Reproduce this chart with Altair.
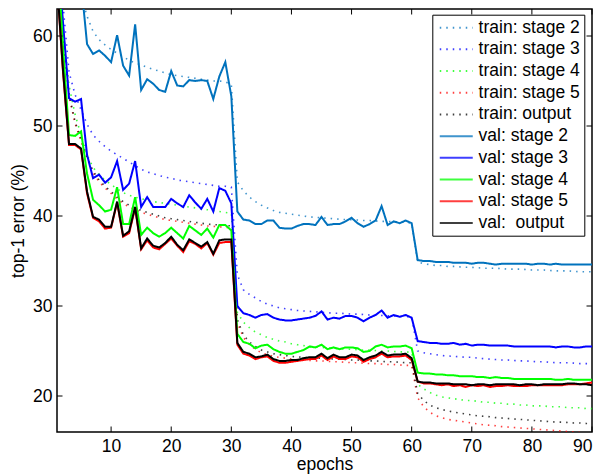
import altair as alt
import pandas as pd

epochs = list(range(1, 91))

series_names = ["train: stage 2", "train: stage 3", "train: stage 4", "train: stage 5", "train: output",
                "val: stage 2", "val: stage 3", "val: stage 4", "val: stage 5", "val:\u00a0 output"]
series_colors = ["#0072BD", "#0000FF", "#00FF00", "#FF0000", "#000000",
                 "#0072BD", "#0000FF", "#00FF00", "#FF0000", "#000000"]

train_s2 = [90, 80, 72, 67.5, 64.5, 62.2, 60.5, 59.6, 59.0, 58.5, 58.1, 57.7, 57.3, 57.0, 56.8,
            56.5, 56.3, 56.1, 55.9, 55.7, 55.6, 55.5, 55.4, 55.3, 55.2, 55.1, 55.0, 55.0, 54.9, 54.6,
            43.8, 42.8, 42.1, 41.6, 41.2, 40.9, 40.6, 40.4, 40.3, 40.2, 40.1, 40.0, 39.9, 39.85, 39.8,
            39.75, 39.7, 39.65, 39.6, 39.6, 39.55, 39.5, 39.5, 39.45, 39.4, 39.4, 39.35, 39.3, 39.3, 39.2,
            34.9, 34.7, 34.6, 34.5, 34.5, 34.4, 34.4, 34.35, 34.3, 34.3, 34.25, 34.2, 34.2, 34.2, 34.15,
            34.1, 34.1, 34.1, 34.05, 34.0, 34.0, 34.0, 33.95, 33.9, 33.9, 33.9, 33.85, 33.8, 33.8, 33.8]
train_s3 = [80, 63.5, 56.0, 53.5, 51.8, 50.2, 49.0, 48.3, 47.7, 47.2, 46.8, 46.4, 46.0, 45.6, 45.2,
            44.9, 44.7, 44.5, 44.3, 44.2, 44.0, 43.9, 43.8, 43.7, 43.6, 43.5, 43.4, 43.3, 43.3, 43.2,
            33.5, 31.8, 31.3, 30.9, 30.5, 30.2, 30.0, 29.8, 29.7, 29.6, 29.5, 29.45, 29.4, 29.35, 29.3,
            29.25, 29.2, 29.2, 29.15, 29.1, 29.1, 29.05, 29.0, 29.0, 28.95, 28.9, 28.9, 28.85, 28.8, 28.8,
            25.0, 24.8, 24.7, 24.6, 24.5, 24.45, 24.4, 24.35, 24.3, 24.3, 24.2, 24.15, 24.1, 24.05, 24.0,
            24.0, 23.95, 23.9, 23.9, 23.85, 23.8, 23.8, 23.75, 23.7, 23.7, 23.7, 23.65, 23.6, 23.6, 23.6]
train_s4 = [78, 61, 54.5, 51.3, 49.0, 46.8, 45.4, 44.6, 44.0, 43.5, 43.0, 42.6, 42.3, 42.1, 41.9,
            41.8, 41.6, 41.5, 41.4, 41.3, 41.2, 41.1, 41.0, 40.9, 40.8, 40.7, 40.6, 40.5, 40.4, 40.3,
            29.3, 28.2, 27.6, 27.1, 26.8, 26.5, 26.3, 26.1, 26.0, 25.8, 25.7, 25.6, 25.5, 25.45, 25.4,
            25.35, 25.3, 25.25, 25.2, 25.2, 25.15, 25.1, 25.1, 25.05, 25.0, 25.0, 24.95, 24.9, 24.9, 24.85,
            21.3, 20.8, 20.4, 20.1, 19.9, 19.8, 19.7, 19.6, 19.5, 19.5, 19.4, 19.3, 19.3, 19.2, 19.2,
            19.1, 19.1, 19.0, 19.0, 18.9, 18.9, 18.9, 18.8, 18.8, 18.8, 18.7, 18.7, 18.7, 18.6, 18.6]
train_s5 = [76, 59.8, 53.3, 50.3, 48.3, 46.4, 44.8, 43.8, 43.1, 42.5, 41.9, 41.4, 41.0, 40.7, 40.4,
            40.2, 40.0, 39.8, 39.6, 39.5, 39.4, 39.3, 39.2, 39.1, 39.0, 38.9, 38.85, 38.8, 38.75, 38.7,
            28.2, 26.5, 25.7, 25.2, 24.8, 24.6, 24.4, 24.3, 24.2, 24.1, 24.05, 24.0, 23.95, 23.9, 23.9,
            23.85, 23.8, 23.8, 23.75, 23.7, 23.7, 23.65, 23.6, 23.6, 23.55, 23.5, 23.5, 23.45, 23.4, 23.4,
            19.8, 18.8, 18.2, 17.8, 17.6, 17.4, 17.3, 17.2, 17.1, 17.0, 16.9, 16.8, 16.75, 16.7, 16.6,
            16.55, 16.5, 16.45, 16.4, 16.35, 16.3, 16.25, 16.2, 16.15, 16.1, 16.05, 16.0, 15.95, 15.9, 15.85]
train_out = [76, 60, 53.5, 50.5, 48.5, 46.6, 45.0, 44.0, 43.3, 42.7, 42.1, 41.6, 41.2, 40.9, 40.6,
             40.4, 40.2, 40.0, 39.8, 39.7, 39.6, 39.5, 39.4, 39.3, 39.2, 39.1, 39.05, 39.0, 38.95, 38.9,
             28.5, 26.8, 26.0, 25.5, 25.1, 24.9, 24.7, 24.6, 24.5, 24.4, 24.35, 24.3, 24.25, 24.2, 24.2,
             24.15, 24.1, 24.1, 24.05, 24.0, 24.0, 23.95, 23.9, 23.9, 23.85, 23.8, 23.8, 23.75, 23.7, 23.7,
             20.3, 19.5, 19.0, 18.7, 18.5, 18.35, 18.2, 18.1, 18.0, 17.9, 17.8, 17.75, 17.7, 17.6, 17.55,
             17.5, 17.45, 17.4, 17.35, 17.3, 17.25, 17.2, 17.15, 17.1, 17.1, 17.05, 17.0, 17.0, 16.95, 16.9]

val_s2 = [90, 84, 78, 72, 66, 59.1, 58.0, 58.4, 57.8, 57.1, 60.1, 56.7, 55.6, 61.3, 54.0,
          55.2, 54.7, 54.0, 53.8, 56.1, 54.5, 54.4, 55.1, 55.0, 55.1, 55.0, 53.0, 55.5, 57.1, 53.3,
          40.5, 39.6, 39.5, 39.1, 39.1, 39.5, 39.5, 38.7, 38.6, 38.6, 38.9, 39.1, 39.1, 39.0, 39.9,
          39.0, 39.1, 39.1, 39.4, 39.8, 39.2, 38.8, 39.1, 39.5, 41.1, 39.0, 39.4, 39.2, 39.5, 39.2,
          35.1, 35.0, 35.0, 34.9, 34.9, 34.9, 34.8, 34.8, 34.8, 34.7, 34.8, 34.8, 34.7, 34.6, 34.7,
          34.7, 34.7, 34.7, 34.7, 34.6, 34.7, 34.7, 34.6, 34.7, 34.6, 34.6, 34.6, 34.6, 34.6, 34.6]
val_s3 = [70, 61.5, 53.1, 52.7, 53.0, 46.8, 44.2, 44.6, 43.7, 44.3, 46.1, 42.9, 43.6, 46.1, 41.0,
          42.1, 41.0, 41.0, 41.0, 41.9, 41.4, 41.0, 42.3, 41.5, 40.8, 41.9, 40.5, 43.1, 42.8, 41.4,
          30.0, 29.2, 29.0, 28.7, 29.0, 29.1, 28.7, 28.5, 28.4, 28.4, 28.5, 28.6, 28.7, 28.9, 29.4,
          28.5, 28.7, 28.6, 28.9, 28.9, 28.7, 28.3, 28.7, 29.0, 29.5, 28.7, 29.0, 28.8, 29.0, 28.7,
          26.1, 26.0, 25.9, 25.9, 25.8, 25.8, 25.9, 25.7, 25.8, 25.6, 25.7, 25.7, 25.6, 25.6, 25.6,
          25.6, 25.5, 25.5, 25.5, 25.5, 25.5, 25.5, 25.5, 25.4, 25.5, 25.5, 25.4, 25.4, 25.5, 25.5]
val_s4 = [70, 58.8, 49.0, 48.9, 49.4, 44.7, 41.8, 41.2, 40.5, 40.7, 43.2, 39.1, 39.1, 42.1, 37.9,
          38.7, 38.1, 37.7, 38.1, 38.7, 38.1, 37.5, 38.9, 38.4, 37.9, 38.6, 37.6, 39.0, 39.0, 38.4,
          26.9, 26.0, 25.8, 25.3, 25.6, 25.7, 25.2, 24.9, 24.7, 24.7, 24.9, 25.1, 25.5, 25.4, 25.7,
          25.2, 25.4, 25.2, 25.4, 25.4, 25.3, 24.9, 25.0, 25.5, 25.7, 25.4, 25.5, 25.5, 25.6, 25.3,
          22.6, 22.5, 22.5, 22.4, 22.4, 22.3, 22.3, 22.2, 22.2, 22.2, 22.1, 22.1, 22.0, 22.1, 22.0,
          22.0, 21.9, 21.9, 21.9, 21.9, 21.9, 21.9, 21.9, 21.8, 21.8, 21.9, 21.8, 21.8, 21.8, 21.8]
val_s5 = [66, 56.0, 47.9, 47.9, 47.4, 42.5, 39.8, 39.4, 38.6, 38.7, 41.5, 37.7, 38.1, 40.9, 36.3,
          37.3, 36.5, 36.3, 36.9, 37.5, 36.7, 36.0, 37.2, 36.9, 36.4, 37.0, 35.7, 37.0, 37.1, 37.1,
          25.7, 24.7, 24.5, 24.1, 24.3, 24.4, 23.9, 23.7, 23.7, 23.8, 23.9, 24.0, 24.1, 24.1, 24.5,
          24.0, 24.4, 24.1, 24.1, 24.4, 24.3, 23.8, 24.1, 24.3, 24.7, 24.3, 24.4, 24.4, 24.5, 24.0,
          21.6, 21.4, 21.4, 21.3, 21.2, 21.3, 21.1, 21.2, 21.0, 21.2, 21.1, 21.2, 21.0, 21.1, 21.1,
          21.2, 21.1, 21.1, 21.1, 21.2, 21.2, 21.2, 21.2, 21.2, 21.2, 21.3, 21.3, 21.3, 21.4, 21.5]
val_out = [66, 56.2, 48.0, 48.0, 47.5, 42.7, 39.9, 39.6, 38.8, 38.8, 41.6, 37.8, 38.3, 41.0, 36.4,
           37.5, 36.7, 36.5, 37.0, 37.7, 36.8, 36.2, 37.4, 37.0, 36.6, 37.1, 35.8, 37.3, 37.4, 37.4,
           25.9, 24.9, 24.7, 24.3, 24.4, 24.6, 24.1, 23.9, 23.9, 24.0, 24.0, 24.2, 24.3, 24.3, 24.7,
           24.2, 24.6, 24.3, 24.3, 24.6, 24.5, 24.0, 24.3, 24.5, 24.9, 24.5, 24.6, 24.6, 24.7, 24.2,
           21.6, 21.5, 21.5, 21.4, 21.4, 21.4, 21.3, 21.3, 21.3, 21.2, 21.3, 21.3, 21.2, 21.3, 21.3,
           21.3, 21.3, 21.2, 21.3, 21.3, 21.2, 21.3, 21.3, 21.3, 21.3, 21.4, 21.4, 21.3, 21.3, 21.2]

x_ticks = [10, 20, 30, 40, 50, 60, 70, 80, 90]
y_ticks = [20, 30, 40, 50, 60]

all_series = [train_s2, train_s3, train_s4, train_s5, train_out,
              val_s2, val_s3, val_s4, val_s5, val_out]

rows = []
for name, vals in zip(series_names, all_series):
    for e, v in zip(epochs, vals):
        rows.append({"epoch": e, "error": v, "series": name})
df = pd.DataFrame(rows)

W, H = 535, 423
FONT = "Liberation Sans"
FS = 17.5

x_scale = alt.Scale(domain=[1, 90], nice=False, zero=False)
y_scale = alt.Scale(domain=[16, 63], nice=False, zero=False)

x_axis = alt.Axis(values=x_ticks, ticks=False, domain=False, grid=False, labelPadding=5.5,
                  title="epochs", titleY=37, titleBaseline="alphabetic")
y_axis = alt.Axis(values=y_ticks, ticks=False, domain=False, grid=False, labelPadding=5,
                  title="top-1 error (%)", titleX=-34, titleY=H / 2, titleBaseline="alphabetic",
                  titleAngle=270)

color = alt.Color("series:N", scale=alt.Scale(domain=series_names, range=series_colors), title=None)
dash = alt.StrokeDash("series:N",
                      scale=alt.Scale(domain=series_names,
                                      range=[[1.5, 5]] * 5 + [[1, 0]] * 5),
                      title=None)

layers = []
for i, name in enumerate(series_names):
    is_train = i < 5
    mk = alt.Chart(df).transform_filter(alt.datum.series == name).mark_line(
        clip=True,
        strokeWidth=1.6 if is_train else 2,
        opacity=0.75 if is_train else 1,
    ).encode(
        x=alt.X("epoch:Q", scale=x_scale, axis=x_axis),
        y=alt.Y("error:Q", scale=y_scale, axis=y_axis),
        color=color,
        strokeDash=dash,
    )
    layers.append(mk)

xt = pd.DataFrame({"t": x_ticks})
yt = pd.DataFrame({"t": y_ticks})
tick_style = dict(color="black", strokeWidth=1)
xt_top = alt.Chart(xt).mark_rule(**tick_style).encode(
    x=alt.X("t:Q", scale=x_scale, axis=x_axis), y=alt.value(0), y2=alt.value(5.5))
xt_bot = alt.Chart(xt).mark_rule(**tick_style).encode(
    x=alt.X("t:Q", scale=x_scale, axis=x_axis), y=alt.value(H), y2=alt.value(H - 5.5))
yt_left = alt.Chart(yt).mark_rule(**tick_style).encode(
    y=alt.Y("t:Q", scale=y_scale, axis=y_axis), x=alt.value(0), x2=alt.value(5.5))
yt_right = alt.Chart(yt).mark_rule(**tick_style).encode(
    y=alt.Y("t:Q", scale=y_scale, axis=y_axis), x=alt.value(W), x2=alt.value(W - 5.5))

chart = alt.layer(*layers, xt_top, xt_bot, yt_left, yt_right).properties(
    width=W, height=H,
    autosize=alt.AutoSizeParams(type="none"),
    padding={"left": 49, "top": 1, "right": 2, "bottom": 42},
    background="white",
).configure_view(
    stroke="black", strokeWidth=1.5
).configure_axis(
    labelFont=FONT, labelFontSize=FS, labelColor="black",
    titleFont=FONT, titleFontSize=FS, titleColor="black", titleFontWeight="normal",
).configure_legend(
    orient="none", legendX=375.3, legendY=5.7,
    fillColor="white", strokeColor="black", padding=4.2,
    labelFont=FONT, labelFontSize=FS, labelColor="black", labelLimit=300,
    symbolType="M-3,0H3", symbolSize=121, symbolStrokeWidth=2,
    symbolOffset=11, labelOffset=13.6, rowPadding=2.7, cornerRadius=0,
)

chart.save("out.html", embed_options={"renderer": "svg", "actions": False})
